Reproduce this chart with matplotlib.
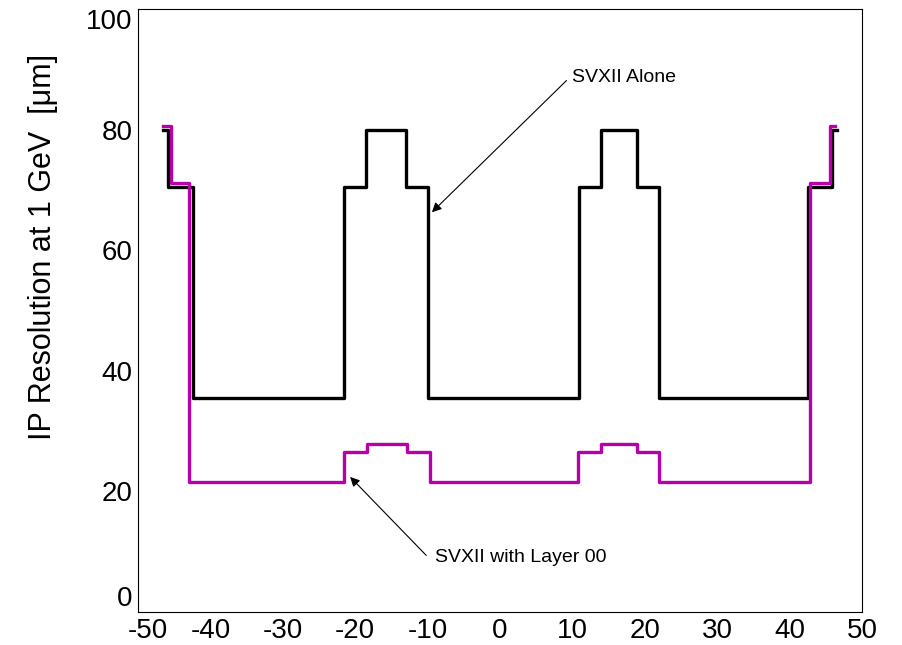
import numpy as np
import matplotlib.pyplot as plt
import matplotlib.transforms as mtransforms

plt.rcParams['font.family'] = ['Liberation Sans', 'DejaVu Sans']
plt.rcParams['axes.unicode_minus'] = False

# step edges (z position) and resolution level on each interval
svx_edges = [-46.6, -45.8, -42.4, -21.6, -18.5, -13.0, -9.9, 10.9, 13.95,
             18.9, 22.0, 42.5, 45.9, 46.5]
svx_levels = [80.0, 70.5, 35.5, 70.5, 80.0, 70.5, 35.5, 70.5, 80.0, 70.5,
              35.5, 70.5, 80.0]

l00_edges = [-46.5, -45.5, -43.0, -21.5, -18.3, -12.8, -9.7, 10.8, 13.95,
             18.9, 22.0, 42.8, 45.6, 46.3]
l00_levels = [80.6, 71.1, 21.6, 26.6, 27.8, 26.6, 21.6, 26.6, 27.8, 26.6,
              21.6, 71.1, 80.6]

xticks = [-50, -40, -30, -20, -10, 0, 10, 20, 30, 40, 50]
yticks = [0, 20, 40, 60, 80, 100]

fig = plt.figure(figsize=(9.03, 6.45), dpi=100)
ax = fig.add_axes([0.1528, 0.0512, 0.8018, 0.9348])

ax.step(svx_edges, svx_levels + [svx_levels[-1]], where='post',
        color='black', lw=2.4)
ax.step(l00_edges, l00_levels + [l00_levels[-1]], where='post',
        color='#b800aa', lw=2.4)

ax.annotate('SVXII Alone', xy=(-9.4, 66.3), xytext=(9.9, 88.7),
            fontsize=14, va='center', ha='left',
            arrowprops=dict(arrowstyle='-|>', color='black', lw=0.8,
                            shrinkA=0, shrinkB=0, mutation_scale=14,
                            relpos=(-0.05, 0.3)))
ax.annotate('SVXII with Layer 00', xy=(-20.7, 22.4), xytext=(-9.0, 9.1),
            fontsize=14, va='center', ha='left',
            arrowprops=dict(arrowstyle='-|>', color='black', lw=0.8,
                            shrinkA=0, shrinkB=0, mutation_scale=14,
                            relpos=(-0.05, 0.6)))

ax.set_xlim(-50, 50)
ax.set_ylim(0, 100)
ax.set_xticks(xticks)
ax.set_yticks(yticks)
ax.tick_params(length=0, labelsize=20, pad=4)
for s in ax.spines.values():
    s.set_linewidth(0.8)
ax.set_ylabel('IP Resolution at 1 GeV  [μm]', fontsize=22)
ax.yaxis.set_label_coords(-0.111, 0.605)

# end labels sit inside the frame like the original
ylabs = ax.get_yticklabels()
ylabs[0].set_va('bottom')
ylabs[-1].set_va('top')
xlabs = ax.get_xticklabels()
xlabs[0].set_transform(xlabs[0].get_transform() +
                       mtransforms.ScaledTranslation(0.1, 0, fig.dpi_scale_trans))

fig.savefig('out.png', dpi=100)
